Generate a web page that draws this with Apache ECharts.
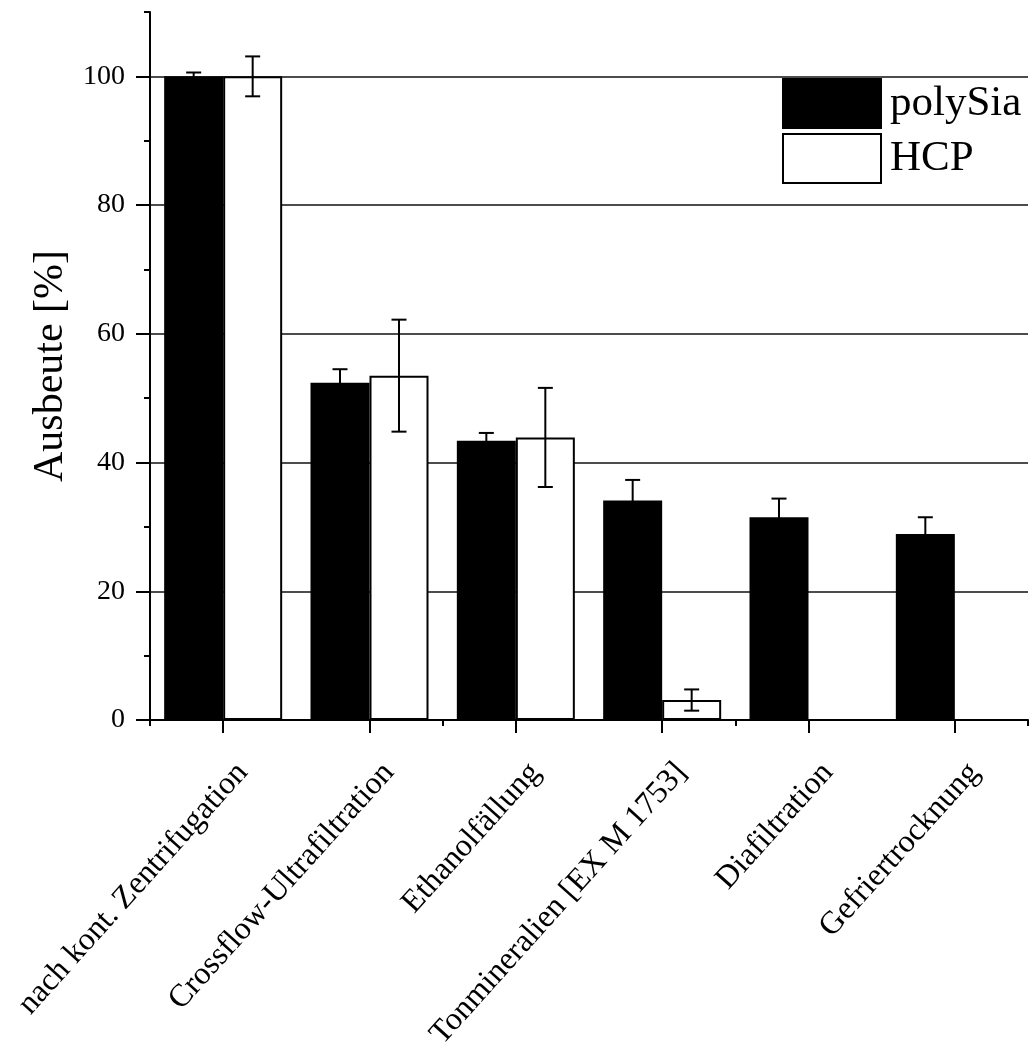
<!DOCTYPE html>
<html>
<head>
<meta charset="utf-8">
<script src="https://cdn.jsdelivr.net/npm/echarts@6/dist/echarts.min.js"></script>
<style>
  html, body { margin: 0; padding: 0; background: #fff; }
  #chart { width: 1030px; height: 1045px; }
</style>
</head>
<body>
<div id="chart"></div>
<script>
// Ausbeute der Aufreinigungsschritte (polySia vs. HCP)
const categories = [
  'nach kont. Zentrifugation',
  'Crossflow-Ultrafiltration',
  'Ethanolfällung',
  'Tonmineralien [EX M 1753]',
  'Diafiltration',
  'Gefriertrocknung'
];
const polySiaValues = [100, 52.4, 43.4, 34.1, 31.5, 28.9];
const polySiaErrors = [0.6, 2.1, 1.2, 3.2, 2.9, 2.6];
const hcpValues = [100, 53.5, 43.9, 3.1, null, null];
const hcpErrors = [3.1, 8.7, 7.7, 1.65, null, null];
const yTicks = [0, 20, 40, 60, 80, 100];

const FONT = "'Liberation Serif', 'Times New Roman', serif";
const BAR_W = 59;
const CAP_HALF = 7.5;

function errorRows(values, errors) {
  const rows = [];
  values.forEach((v, i) => {
    if (v != null && errors[i] != null) rows.push([i, v - errors[i], v + errors[i]]);
  });
  return rows;
}

function errorRenderer(offset) {
  return function (params, api) {
    const idx = api.value(0);
    const pHi = api.coord([idx, api.value(2)]);
    const pLo = api.coord([idx, api.value(1)]);
    const x = pHi[0] + offset;
    const style = { stroke: '#000', lineWidth: 2, fill: null };
    return {
      type: 'group',
      children: [
        { type: 'line', shape: { x1: x, y1: pHi[1], x2: x, y2: pLo[1] }, style },
        { type: 'line', shape: { x1: x - CAP_HALF, y1: pHi[1], x2: x + CAP_HALF, y2: pHi[1] }, style },
        { type: 'line', shape: { x1: x - CAP_HALF, y1: pLo[1], x2: x + CAP_HALF, y2: pLo[1] }, style }
      ]
    };
  };
}

const chart = echarts.init(document.getElementById('chart'), null, { renderer: 'canvas' });

chart.setOption({
  animation: false,
  backgroundColor: '#fff',
  textStyle: { fontFamily: FONT, color: '#000' },
  grid: { left: 150, right: 2, top: 12, bottom: 325, containLabel: false, outerBoundsMode: 'none' },
  legend: {
    data: ['polySia', 'HCP'],
    orient: 'vertical',
    left: 782,
    top: 78,
    padding: 0,
    itemWidth: 98,
    itemHeight: 49,
    itemGap: 4,
    icon: 'rect',
    selectedMode: false,
    textStyle: { fontFamily: FONT, fontSize: 43, color: '#000', padding: [0, 0, 0, 4] }
  },
  xAxis: [
    {
      type: 'category',
      data: categories,
      boundaryGap: true,
      axisLine: { show: true, lineStyle: { color: '#000', width: 2 } },
      axisTick: { show: true, alignWithLabel: true, length: 13, lineStyle: { color: '#000', width: 2 } },
      axisLabel: {
        interval: 0,
        rotate: 48,
        fontFamily: FONT,
        fontSize: 32,
        color: '#000',
        verticalAlign: 'top',
        lineHeight: 52,
        margin: 30
      },
      splitLine: { show: false }
    },
    {
      // short ticks on the category boundaries
      type: 'category',
      data: categories,
      position: 'bottom',
      boundaryGap: true,
      axisLine: { show: false },
      axisTick: { show: true, alignWithLabel: false, length: 6, lineStyle: { color: '#000', width: 2 } },
      axisLabel: { show: false },
      splitLine: { show: false }
    }
  ],
  yAxis: [
    {
      type: 'value',
      min: 0,
      max: 110,
      interval: 10,
      axisLine: { show: true, lineStyle: { color: '#000', width: 2 } },
      axisTick: { show: true, length: 6, lineStyle: { color: '#000', width: 2 } },
      axisLabel: { show: false },
      splitLine: { show: false }
    },
    {
      type: 'value',
      min: 0,
      max: 110,
      interval: 20,
      position: 'left',
      name: 'Ausbeute [%]',
      nameLocation: 'middle',
      nameGap: 78,
      nameTextStyle: { fontFamily: FONT, fontSize: 42, color: '#000' },
      axisLine: { show: false },
      axisTick: { show: true, length: 14, customValues: yTicks, lineStyle: { color: '#000', width: 2 } },
      axisLabel: { show: true, customValues: yTicks, margin: 25, fontFamily: FONT, fontSize: 28, color: '#000' },
      splitLine: { show: true, showMinLine: false, lineStyle: { color: '#111', width: 1.6 } }
    }
  ],
  series: [
    {
      name: 'polySia',
      type: 'bar',
      xAxisIndex: 0,
      yAxisIndex: 0,
      data: polySiaValues,
      barWidth: BAR_W,
      barGap: '0%',
      itemStyle: { color: '#000', borderColor: '#000', borderWidth: 2 },
      z: 3
    },
    {
      name: 'HCP',
      type: 'bar',
      xAxisIndex: 0,
      yAxisIndex: 0,
      data: hcpValues,
      barWidth: BAR_W,
      barGap: '0%',
      itemStyle: { color: '#fff', borderColor: '#000', borderWidth: 2 },
      z: 3
    },
    {
      name: 'polySia Fehler',
      type: 'custom',
      xAxisIndex: 0,
      yAxisIndex: 0,
      data: errorRows(polySiaValues, polySiaErrors),
      renderItem: errorRenderer(-BAR_W / 2),
      z: 5,
      silent: true
    },
    {
      name: 'HCP Fehler',
      type: 'custom',
      xAxisIndex: 0,
      yAxisIndex: 0,
      data: errorRows(hcpValues, hcpErrors),
      renderItem: errorRenderer(BAR_W / 2),
      z: 5,
      silent: true
    }
  ]
});
</script>
</body>
</html>
